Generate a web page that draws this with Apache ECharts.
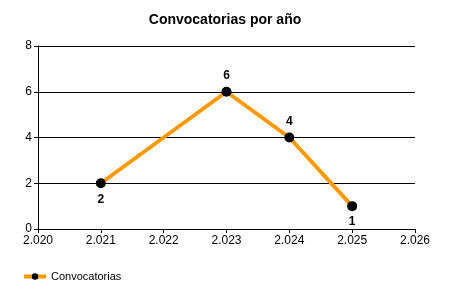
<!DOCTYPE html>
<html><head><meta charset="utf-8">
<script src="https://cdn.jsdelivr.net/npm/echarts@6/dist/echarts.min.js"></script>
<style>html,body{margin:0;padding:0;background:#fff}#c{width:450px;height:300px}</style>
</head><body><div id="c"></div>
<script>
const years = [2021, 2023, 2024, 2025];
const values = [2, 6, 4, 1];
const labelPos = ['bottom', 'top', 'top', 'bottom'];
const seriesName = 'Convocatorias';
const titleText = 'Convocatorias por año';

const fmt = v => String(v).replace(/(\d)(\d{3})$/, '$1.$2');
const data = years.map((y, i) => ({ value: [y, values[i]], label: { position: labelPos[i] } }));

const chart = echarts.init(document.getElementById('c'), null, { renderer: 'canvas' });
chart.setOption({
  animation: false,
  textStyle: { fontFamily: 'Liberation Sans, Arial, sans-serif' },
  title: { text: titleText, left: 'center', top: 8, textStyle: { fontSize: 14, fontWeight: 'bold', color: '#000', fontFamily: 'Liberation Sans, Arial, sans-serif' } },
  grid: { left: 38, right: 35, top: 46, bottom: 71, containLabel: false },
  xAxis: {
    type: 'value', min: 2020, max: 2026, interval: 1,
    axisLine: { show: true, lineStyle: { color: '#000', width: 1 } },
    axisTick: { show: true, length: 4, lineStyle: { color: '#000' } },
    axisLabel: { formatter: fmt, color: '#000', fontSize: 12, margin: 6 },
    splitLine: { show: false }
  },
  yAxis: {
    type: 'value', min: 0, max: 8, interval: 2,
    axisLine: { show: true, lineStyle: { color: '#000', width: 1 } },
    axisTick: { show: true, length: 4, lineStyle: { color: '#000' } },
    axisLabel: { color: '#000', fontSize: 12, margin: 6 },
    splitLine: { show: true, lineStyle: { color: '#000', width: 1 } }
  },
  legend: {
    left: 17, bottom: 13, itemWidth: 22, itemHeight: 8, itemGap: 10,
    textStyle: { fontSize: 11, color: '#000' },
    itemStyle: { color: '#000' },
    lineStyle: { color: '#FF9900', width: 4 },
    data: [seriesName]
  },
  series: [{
    name: seriesName, type: 'line', data: data,
    lineStyle: { color: '#FF9900', width: 4 },
    itemStyle: { color: '#000' },
    symbol: 'circle', symbolSize: 10,
    label: { show: true, fontWeight: 'bold', fontSize: 12, color: '#000', distance: 5 }
  }]
});
</script></body></html>
